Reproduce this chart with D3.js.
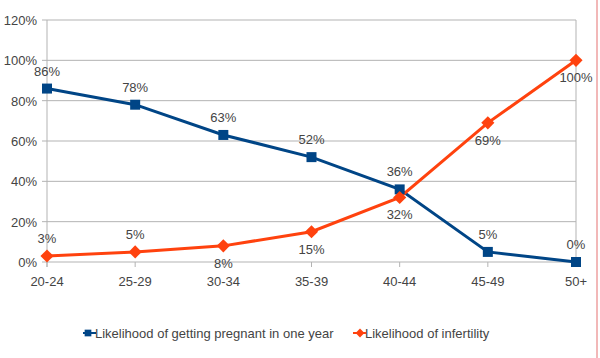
<!DOCTYPE html>
<html>
<head>
<meta charset="utf-8">
<script src="https://cdn.jsdelivr.net/npm/d3@7"></script>
<style>
  body { margin: 0; background: #fff; }
  text { font-family: "Liberation Sans", Arial, sans-serif; fill: #444; }
</style>
</head>
<body>
<svg width="600" height="358"></svg>
<script>
const ageGroups = ["20-24", "25-29", "30-34", "35-39", "40-44", "45-49", "50+"]
const pregnant = [86, 78, 63, 52, 36, 5, 0]
const infertility = [3, 5, 8, 15, 32, 69, 100]
const yTicks = [0, 20, 40, 60, 80, 100, 120]
const seriesNames = ["Likelihood of getting pregnant in one year", "Likelihood of infertility"]
// where each infertility label sits relative to its point
const infertLabelPos = ["above", "above", "below", "below", "below", "below", "below"]

const svg = d3.select("svg")
const plot = { left: 47, right: 576, top: 20, bottom: 262 }

const x = d3.scalePoint().domain(ageGroups).range([plot.left, plot.right])
const y = d3.scaleLinear().domain([0, 120]).range([plot.bottom, plot.top])

// pink edge line at right
svg.append("line")
    .attr("x1", 597).attr("x2", 597).attr("y1", 0).attr("y2", 358)
    .attr("stroke", "#f2b8b8").attr("stroke-width", 2)

// gridlines
svg.append("g").selectAll("line").data(yTicks).enter().append("line")
    .attr("x1", plot.left - 5).attr("x2", plot.right)
    .attr("y1", d => y(d)).attr("y2", d => y(d))
    .attr("stroke", "#b3b3b3").attr("stroke-width", 1)

// left axis + right border
svg.append("line").attr("x1", plot.left).attr("x2", plot.left).attr("y1", plot.top).attr("y2", plot.bottom + 5)
    .attr("stroke", "#b3b3b3")
svg.append("line").attr("x1", plot.right).attr("x2", plot.right).attr("y1", plot.top).attr("y2", plot.bottom + 5)
    .attr("stroke", "#b3b3b3")

// x ticks
svg.append("g").selectAll("line").data(ageGroups).enter().append("line")
    .attr("x1", d => x(d)).attr("x2", d => x(d))
    .attr("y1", plot.bottom).attr("y2", plot.bottom + 5)
    .attr("stroke", "#b3b3b3")

// y labels
svg.append("g").selectAll("text").data(yTicks).enter().append("text")
    .attr("x", plot.left - 10).attr("y", d => y(d) + 5)
    .attr("text-anchor", "end").attr("font-size", 13)
    .text(d => d + "%")

// x labels
svg.append("g").selectAll("text").data(ageGroups).enter().append("text")
    .attr("x", d => x(d)).attr("y", plot.bottom + 24)
    .attr("text-anchor", "middle").attr("font-size", 13)
    .text(d => d)

const line = d3.line().x((d, i) => x(ageGroups[i])).y(d => y(d))

const blue = "#004586", orange = "#ff420e"

svg.append("path").datum(pregnant).attr("d", line)
    .attr("fill", "none").attr("stroke", blue).attr("stroke-width", 3)
svg.append("path").datum(infertility).attr("d", line)
    .attr("fill", "none").attr("stroke", orange).attr("stroke-width", 3)

const sq = d3.symbol().type(d3.symbolSquare).size(100)
const dia = d3.symbol().type(d3.symbolDiamond2).size(110)

svg.append("g").selectAll("path").data(pregnant).enter().append("path")
    .attr("d", sq)
    .attr("transform", (d, i) => `translate(${x(ageGroups[i])},${y(d)})`)
    .attr("fill", blue)
svg.append("g").selectAll("path").data(infertility).enter().append("path")
    .attr("d", dia)
    .attr("transform", (d, i) => `translate(${x(ageGroups[i])},${y(d)})`)
    .attr("fill", orange)

// value labels
svg.append("g").selectAll("text").data(pregnant).enter().append("text")
    .attr("x", (d, i) => x(ageGroups[i])).attr("y", d => y(d) - 13)
    .attr("text-anchor", "middle").attr("font-size", 13)
    .text(d => d + "%")
svg.append("g").selectAll("text").data(infertility).enter().append("text")
    .attr("x", (d, i) => x(ageGroups[i]))
    .attr("y", (d, i) => infertLabelPos[i] == "above" ? y(d) - 13 : y(d) + 22)
    .attr("text-anchor", "middle").attr("font-size", 13)
    .text(d => d + "%")

// legend
const lg = svg.append("g").attr("transform", "translate(0,338)")
lg.append("path").attr("d", d3.symbol().type(d3.symbolSquare).size(45))
    .attr("transform", "translate(88,-5)").attr("fill", blue)
lg.append("line").attr("x1", 83).attr("x2", 96).attr("y1", -5).attr("y2", -5)
    .attr("stroke", blue).attr("stroke-width", 2)
lg.append("text").attr("x", 95).attr("y", 0).attr("font-size", 13).text(seriesNames[0])
lg.append("path").attr("d", d3.symbol().type(d3.symbolDiamond2).size(50))
    .attr("transform", "translate(360,-5)").attr("fill", orange)
lg.append("line").attr("x1", 353).attr("x2", 366).attr("y1", -5).attr("y2", -5)
    .attr("stroke", orange).attr("stroke-width", 2)
lg.append("text").attr("x", 365).attr("y", 0).attr("font-size", 13).text(seriesNames[1])
</script>
</body>
</html>
